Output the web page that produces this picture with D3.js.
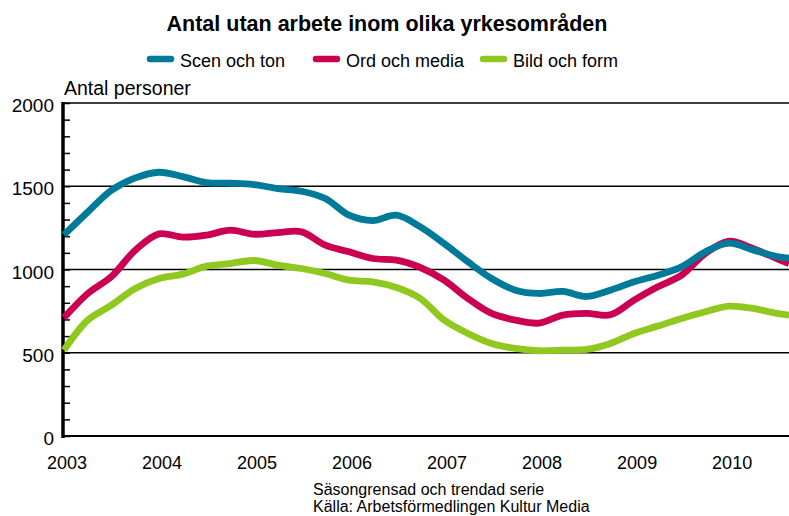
<!DOCTYPE html>
<html><head><meta charset="utf-8">
<script src="https://cdn.jsdelivr.net/npm/d3@7"></script>
<style>body{margin:0;background:#fff}svg{display:block;font-family:"Liberation Sans",Arial,sans-serif}</style>
</head><body><svg id="c" width="789" height="516"></svg>
<script>
const title = "Antal utan arbete inom olika yrkesområden";
const yTitle = "Antal personer";
const notes = ["Säsongrensad och trendad serie", "Källa: Arbetsförmedlingen Kultur Media"];
const seriesNames = ["Scen och ton", "Ord och media", "Bild och form"];
const seriesColors = ["#007a99", "#cc0052", "#8fc81e"];
const yearLabels = ["2003","2004","2005","2006","2007","2008","2009","2010"];
const yTicks = [0, 500, 1000, 1500, 2000];
// time in decimal years (quarterly) and the last visible point
const times = [2003.0,2003.25,2003.5,2003.75,2004.0,2004.25,2004.5,2004.75,2005.0,2005.25,2005.5,2005.75,
  2006.0,2006.25,2006.5,2006.75,2007.0,2007.25,2007.5,2007.75,2008.0,2008.25,2008.5,2008.75,
  2009.0,2009.25,2009.5,2009.75,2010.0,2010.25,2010.5,2010.63];
const scen = [1208,1345,1476,1550,1584,1558,1522,1518,1510,1486,1470,1426,
  1326,1294,1326,1256,1156,1046,946,876,856,868,838,876,
  926,966,1016,1106,1158,1118,1078,1068];
const ord = [710,856,958,1116,1214,1194,1206,1236,1212,1222,1226,1146,
  1106,1066,1056,1012,936,826,736,696,678,726,736,728,
  816,896,966,1096,1170,1126,1066,1036];
const bild = [516,696,786,886,946,972,1020,1036,1054,1026,1006,976,
  936,926,892,826,696,616,556,526,512,516,520,556,
  616,660,706,746,780,766,736,726];
const seriesData = [scen, ord, bild];

const svg = d3.select("#c");
const x = d3.scaleLinear().domain([2003, 2010.63]).range([64, 789]);
const y = d3.scaleLinear().domain([0, 2000]).range([436, 103]);

svg.append("text").attr("x", 387).attr("y", 31).attr("text-anchor","middle")
  .attr("font-weight","bold").attr("font-size", 21.5).text(title);

// legend
const legX = [147, 313, 480];
seriesNames.forEach((n,i)=>{
  svg.append("line").attr("x1",legX[i]+3).attr("x2",legX[i]+24).attr("y1",59).attr("y2",59)
    .attr("stroke",seriesColors[i]).attr("stroke-width",6.5).attr("stroke-linecap","round");
  svg.append("text").attr("x",legX[i]+33).attr("y",67).attr("font-size",18).text(n);
});

svg.append("text").attr("x",64).attr("y",95).attr("font-size",19.5).text(yTitle);

// grid lines
const grid = svg.append("g");
yTicks.filter(v=>v>0).forEach(v=>{
  grid.append("line").attr("x1",64).attr("x2",789).attr("y1",y(v)).attr("y2",y(v))
    .attr("stroke","#000").attr("stroke-width",1.5);
});

// y axis with inward minor ticks
const yAxis = d3.axisRight(y).tickValues(d3.range(0,2001,100)).tickSize(7).tickFormat("");
const ga = svg.append("g").attr("transform","translate(63,0)").call(yAxis);
ga.select(".domain").remove();
ga.selectAll(".tick line").attr("stroke","#000").attr("stroke-width",1.5);
svg.append("line").attr("x1",63).attr("x2",63).attr("y1",y(2000)-1).attr("y2",y(0)+2)
  .attr("stroke","#000").attr("stroke-width",3.5);
yTicks.forEach(v=>{
  svg.append("text").attr("x",54).attr("y",y(v)+9).attr("text-anchor","end")
    .attr("font-size",19).text(v);
});

// x axis
svg.append("line").attr("x1",62).attr("x2",789).attr("y1",y(0)).attr("y2",y(0))
  .attr("stroke","#000").attr("stroke-width",2);
yearLabels.forEach(l=>{
  svg.append("text").attr("x",x(+l)+3).attr("y",469).attr("text-anchor","middle")
    .attr("font-size",18).text(l);
});

// lines
const line = d3.line().x((d,i)=>x(times[i])).y(d=>y(d)).curve(d3.curveCatmullRom.alpha(0.5));
[2,1,0].forEach(i=>{
  svg.append("path").datum(seriesData[i]).attr("d",line).attr("fill","none")
    .attr("stroke",seriesColors[i]).attr("stroke-width",6.8).attr("stroke-linejoin","round");
});

notes.forEach((t,i)=>{
  svg.append("text").attr("x",313).attr("y",495+i*17).attr("font-size",16).text(t);
});
</script></body></html>
